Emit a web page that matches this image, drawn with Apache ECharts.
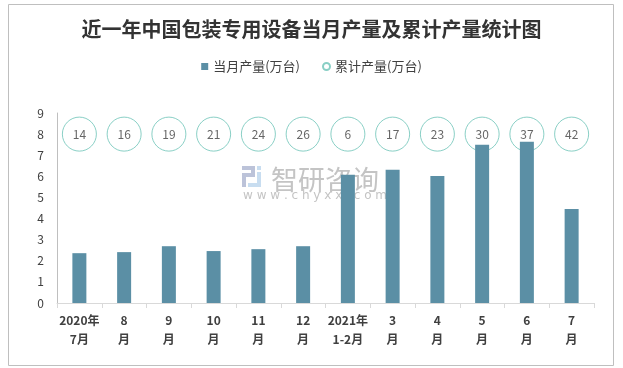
<!DOCTYPE html>
<html>
<head>
<meta charset="utf-8">
<script src="https://cdn.jsdelivr.net/npm/echarts@6/dist/echarts.min.js"></script>
<style>
html,body{margin:0;padding:0;background:#fff;}
#c{width:623px;height:368px;}
</style>
</head>
<body>
<div id="c"></div>
<script>
var categories = ['2020年\n7月','8\n月','9\n月','10\n月','11\n月','12\n月','2021年\n1-2月','3\n月','4\n月','5\n月','6\n月','7\n月'];
var monthly = [2.36, 2.41, 2.69, 2.46, 2.55, 2.69, 6.07, 6.31, 6.02, 7.50, 7.64, 4.45];
var cumulative = [14, 16, 19, 21, 24, 26, 6, 17, 23, 30, 37, 42];
var labelRow = [8, 8, 8, 8, 8, 8, 8, 8, 8, 8, 8, 8];
var yTicks = [0, 1, 2, 3, 4, 5, 6, 7, 8, 9];

var font = '"Noto Sans CJK SC", "Microsoft YaHei", sans-serif';
var chart = echarts.init(document.getElementById('c'), null, {renderer: 'canvas'});
function box(x, y, w, h, c) {
  return {type: 'rect', z: 0, shape: {x: x, y: y, width: w, height: h}, style: {fill: c}};
}
var g1 = '#bcc3d9', g2 = '#c8ddf0';
chart.setOption({
  backgroundColor: '#ffffff',
  animation: false,
  title: {
    text: '近一年中国包装专用设备当月产量及累计产量统计图',
    left: 'center',
    top: 14,
    textStyle: {fontFamily: font, fontSize: 20, fontWeight: 'bold', color: '#333333'}
  },
  legend: {
    top: 55,
    left: 'center',
    itemGap: 22,
    itemWidth: 7,
    itemHeight: 7,
    textStyle: {fontFamily: font, fontSize: 13, color: '#404040'},
    data: [
      {name: '当月产量(万台)', icon: 'rect'},
      {name: '累计产量(万台)', icon: 'circle'}
    ]
  },
  graphic: [
    {type: 'rect', z: -10, shape: {x: 8.5, y: 4.5, width: 605, height: 361}, style: {fill: 'none', stroke: '#bfbfbf', lineWidth: 1}},
    box(242, 166, 13, 4, g1), box(251, 166, 4, 11, g1), box(242, 173, 13, 4, g1), box(242, 177, 4, 10, g1),
    box(257, 166, 4, 4, g2), box(257, 172, 4, 15, g2), box(248, 183, 13, 4, g2),
    {type: 'text', z: 0, left: 271, top: 166, style: {text: '智研咨询', fontFamily: font, fontSize: 27, fill: '#c4c4c4'}},
    {type: 'text', z: 0, left: 243, top: 190, style: {text: 'w w w . c h y x x . c o m', fontFamily: 'DejaVu Sans', fontSize: 12, fill: '#c4c4c4'}}
  ],
  grid: {left: 57, right: 29, top: 113, bottom: 65},
  xAxis: {
    type: 'category',
    data: categories,
    boundaryGap: true,
    axisLine: {lineStyle: {color: '#d9d9d9', width: 1}},
    axisTick: {show: true, length: 5, alignWithLabel: false, lineStyle: {color: '#d9d9d9'}},
    axisLabel: {fontFamily: font, fontSize: 12, fontWeight: 'bold', color: '#404040', lineHeight: 19, margin: 8, interval: 0}
  },
  yAxis: {
    type: 'value',
    min: 0, max: 9, interval: 1,
    axisLine: {show: true, lineStyle: {color: '#bfbfbf'}},
    axisTick: {show: false},
    splitLine: {show: false},
    axisLabel: {fontFamily: font, fontSize: 12, color: '#404040', margin: 13,
      formatter: function (v) { return yTicks.indexOf(v) >= 0 ? String(v) : ''; }}
  },
  series: [
    {
      name: '累计产量(万台)',
      type: 'scatter',
      z: 1,
      symbol: 'circle',
      symbolSize: 34,
      data: labelRow,
      itemStyle: {color: 'rgba(255,255,255,0)', borderColor: '#6cc3b7', borderWidth: 1},
      label: {show: true, position: 'inside', fontFamily: font, fontSize: 12, color: '#404040',
        formatter: function (p) { return String(cumulative[p.dataIndex]); }}
    },
    {
      name: '当月产量(万台)',
      type: 'bar',
      z: 2,
      barWidth: 14,
      data: monthly,
      itemStyle: {color: '#5b8fa5'}
    }
  ]
});
</script>
</body>
</html>
